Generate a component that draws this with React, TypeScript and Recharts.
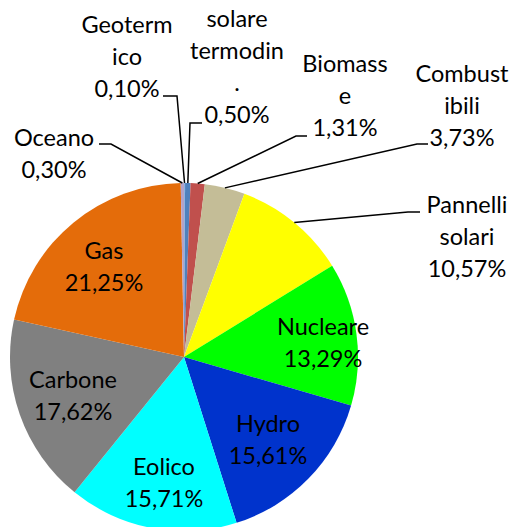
import React from 'react';
import { PieChart, Pie, Cell } from 'recharts';

// energy mix, clockwise from 12 o'clock
const sources = ['Geotermico', 'solare termodin.', 'Biomasse', 'Combustibili', 'Pannelli solari', 'Nucleare', 'Hydro', 'Eolico', 'Carbone', 'Gas', 'Oceano'];
const shares = [0.1, 0.5, 1.31, 3.73, 10.57, 13.29, 15.61, 15.71, 17.62, 21.25, 0.3];
// names as Excel wrapped them in the label boxes
const wrappedNames = [['Geoterm', 'ico'], ['solare', 'termodin', '.'], ['Biomass', 'e'], ['Combust', 'ibili'], ['Pannelli', 'solari'], ['Nucleare'], ['Hydro'], ['Eolico'], ['Carbone'], ['Gas'], ['Oceano']];
const colors = ['#8EB4E3', '#4F81BD', '#C0504D', '#C4BD97', '#FFFF00', '#00FF00', '#0033CC', '#00FFFF', '#808080', '#E46C0A', '#B3A2C7'];

const data = sources.map((name, i) => ({ name, value: shares[i], lines: wrappedNames[i] }));

// label boxes: center x, first baseline, and leader hook (text end -> elbow) for outside ones
const labelLayout: { x: number; y: number; hook?: [number, number, number] }[] = [
  { x: 127, y: 33, hook: [163, 177, 96] },
  { x: 237, y: 27, hook: [202, 190, 123] },
  { x: 345, y: 72, hook: [307, 296, 136] },
  { x: 462, y: 82, hook: [428, 417, 144] },
  { x: 467, y: 213, hook: [420, 408, 212] },
  { x: 323, y: 335 },
  { x: 268, y: 432 },
  { x: 164, y: 475 },
  { x: 73, y: 388 },
  { x: 104, y: 259 },
  { x: 54, y: 146, hook: [99, 111, 144] },
];

const RAD = Math.PI / 180;
const LINE_H = 32;

const fmt = (v: number) => v.toFixed(2).replace('.', ',') + '%';

const renderLabel = (props: any) => {
  const { cx, cy, midAngle, outerRadius, index } = props;
  const item = data[index];
  const pos = labelLayout[index];
  const lines = [...item.lines, fmt(item.value)];
  let leader = null;
  if (pos.hook) {
    const ex = cx + outerRadius * Math.cos(-midAngle * RAD);
    const ey = cy + outerRadius * Math.sin(-midAngle * RAD);
    const [tx, elbowX, hy] = pos.hook;
    leader = <polyline points={`${tx},${hy} ${elbowX},${hy} ${ex},${ey}`} fill="none" stroke="#000" strokeWidth={1.5} />;
  }
  return (
    <g key={`lbl-${index}`}>
      {leader}
      <text x={pos.x} y={pos.y} textAnchor="middle" fill="#000" fontSize={23.5} fontFamily="Lato, 'Open Sans', sans-serif">
        {lines.map((t, j) => (
          <tspan key={j} x={pos.x} y={pos.y + j * LINE_H}>{t}</tspan>
        ))}
      </text>
    </g>
  );
};

export default function App() {
  return (
    <div style={{ position: 'absolute', left: 0, top: 0, width: 514, height: 527, background: '#fff' }}>
      <PieChart width={514} height={527} margin={{ top: 0, right: 0, bottom: 0, left: 0 }}>
        <Pie
          data={data}
          dataKey="value"
          nameKey="name"
          cx={184}
          cy={357}
          outerRadius={174}
          startAngle={90}
          endAngle={-270}
          stroke="none"
          label={renderLabel}
          labelLine={false}
          isAnimationActive={false}
        >
          {data.map((d, i) => (
            <Cell key={d.name} fill={colors[i]} />
          ))}
        </Pie>
      </PieChart>
    </div>
  );
}
